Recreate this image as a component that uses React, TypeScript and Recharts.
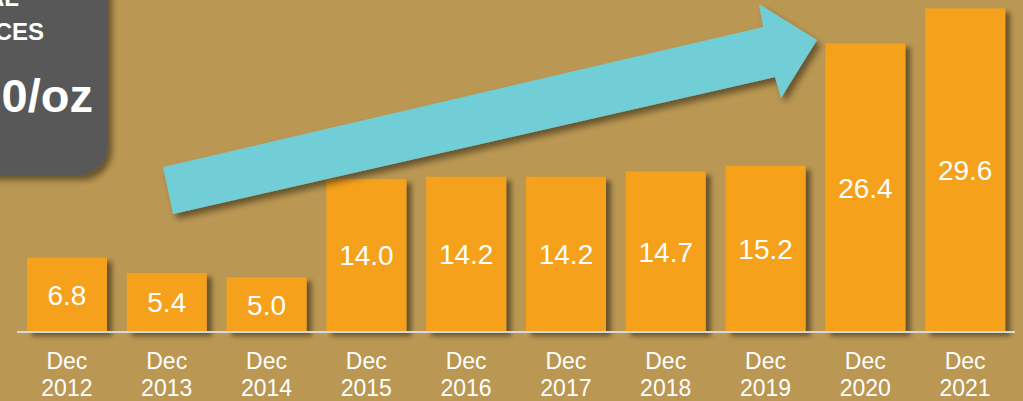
import React from 'react';
import { BarChart, Bar, XAxis, YAxis, LabelList } from 'recharts';

const years = ['2012', '2013', '2014', '2015', '2016', '2017', '2018', '2019', '2020', '2021'];
const month = 'Dec';
const prices = [6.8, 5.4, 5.0, 14.0, 14.2, 14.2, 14.7, 15.2, 26.4, 29.6];
const yDomain = [0, 30];

const data = years.map((y, i) => ({ year: y, value: prices[i] }));

const BG = '#BA9752';
const ORANGE = '#F5A11F';
const CYAN = '#72CED6';
const FONT = '"Liberation Sans", Arial, Helvetica, sans-serif';

const YearTick = (props: any) => {
    const { x, y, payload } = props;
    return (
        <g>
            <text x={x} y={y + 37} textAnchor="middle" fill="#FFFFFF" fontSize={23} fontFamily={FONT}>{month}</text>
            <text x={x} y={y + 64} textAnchor="middle" fill="#FFFFFF" fontSize={23} fontFamily={FONT}>{payload.value}</text>
        </g>
    );
};

const ShadowBar = (props: any) => {
    const { x, y, width, height } = props;
    return <rect x={x} y={y} width={width} height={height} fill={ORANGE} filter="url(#barShadow)" />;
};

const App: React.FC = () => {
    return (
        <div style={{ position: 'fixed', left: 0, top: 0, width: 1023, height: 401, background: BG, overflow: 'hidden', fontFamily: FONT }}>
            <svg width={0} height={0} style={{ position: 'absolute' }}>
                <defs>
                    <filter id="barShadow" x="-20%" y="-20%" width="150%" height="150%">
                        <feDropShadow dx={5} dy={4} stdDeviation={2.5} floodColor="#000" floodOpacity={0.45} />
                    </filter>
                    <filter id="softShadow" x="-20%" y="-20%" width="150%" height="150%">
                        <feDropShadow dx={4} dy={5} stdDeviation={3} floodColor="#000" floodOpacity={0.45} />
                    </filter>
                </defs>
            </svg>

            <div style={{ position: 'absolute', left: 0, top: 0 }}>
                <BarChart width={1023} height={401} data={data} margin={{ top: 4, right: 8, left: 17, bottom: 9 }} barCategoryGap="10%">
                    <XAxis dataKey="year" height={60} axisLine={{ stroke: '#D9D9D9', strokeWidth: 2 }} tickLine={false}
                        tickSize={0} tickMargin={0} tick={<YearTick />} interval={0} />
                    <YAxis hide domain={yDomain} />
                    <Bar dataKey="value" fill={ORANGE} shape={<ShadowBar />} isAnimationActive={false}>
                        <LabelList dataKey="value" position="center" fill="#FFFFFF" fontSize={28} fontFamily={FONT}
                            formatter={(v: any) => Number(v).toFixed(1)} />
                    </Bar>
                </BarChart>
            </div>

            {/* trend arrow */}
            <svg width={1023} height={401} style={{ position: 'absolute', left: 0, top: 0, pointerEvents: 'none' }}>
                <polygon points="163,167 763,27 759,4 817,40 781,98 775,77 173,214" fill={CYAN} filter="url(#softShadow)" />
            </svg>

            {/* cropped callout box */}
            <svg width={1023} height={401} style={{ position: 'absolute', left: 0, top: 0, pointerEvents: 'none' }}>
                <rect x={-60} y={-60} width={168} height={235} rx={30} ry={30} fill="#595959" filter="url(#softShadow)" />
                <text x={19} y={6} textAnchor="end" fill="#FFFFFF" fontSize={24} fontWeight="bold" fontFamily={FONT}>AL</text>
                <text x={44} y={40} textAnchor="end" fill="#FFFFFF" fontSize={24} fontWeight="bold" fontFamily={FONT}>CES</text>
                <text x={93} y={112} textAnchor="end" fill="#FFFFFF" fontSize={47} fontWeight="bold" fontFamily={FONT}>0/oz</text>
            </svg>
        </div>
    );
};

export default App;
